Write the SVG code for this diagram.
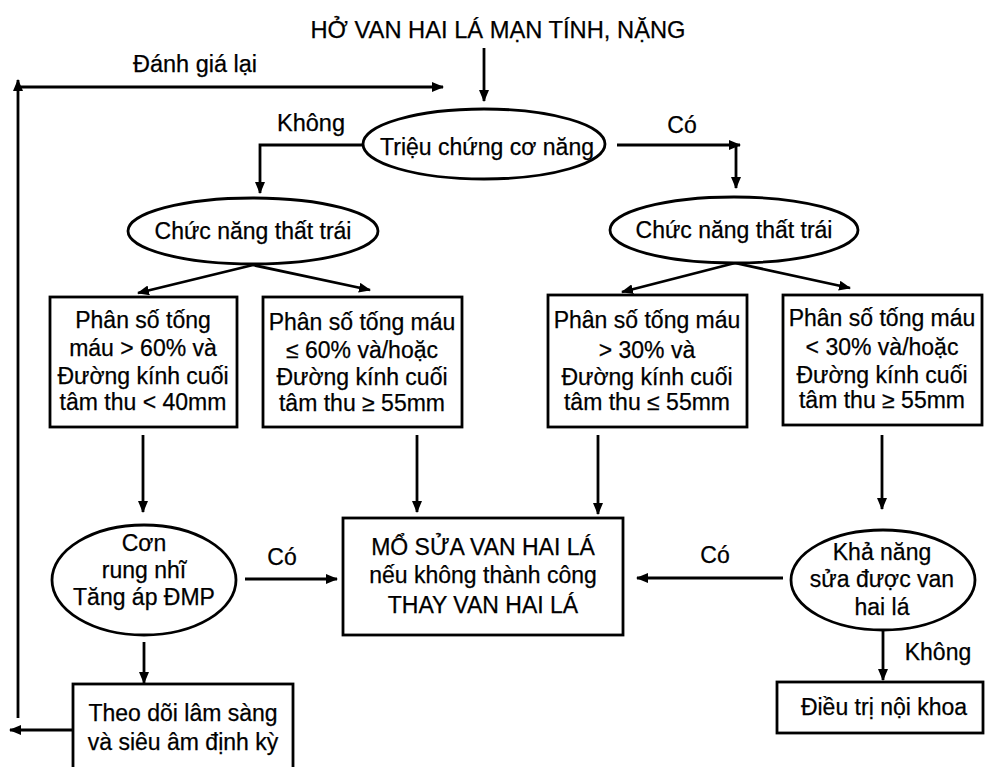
<svg xmlns="http://www.w3.org/2000/svg" width="985" height="767" viewBox="0 0 985 767">
<defs>
<marker id="ah" markerWidth="12" markerHeight="10" refX="11" refY="5" orient="auto" markerUnits="userSpaceOnUse">
<path d="M0,0 L12,5 L0,10 Z" fill="#000"/>
</marker>
<style>
text{font-family:"Liberation Sans",Arial,sans-serif;font-size:23px;fill:#000;text-anchor:middle;stroke:#000;stroke-width:0.25}
.title{font-size:24px}
.lbl{font-size:23px}
.node{fill:#fff;stroke:#000;stroke-width:2.8}
.conn{fill:none;stroke:#000;stroke-width:2.8}
</style>
</defs>
<rect width="985" height="767" fill="#fff"/>

<g id="connectors">
<path class="conn" d="M484,48 V101" marker-end="url(#ah)"/>
<path class="conn" d="M18,718 V80" marker-end="url(#ah)"/>
<path class="conn" d="M18,87 H443" marker-end="url(#ah)"/>
<path class="conn" d="M73,730 H10" marker-end="url(#ah)"/>
<path class="conn" d="M362,145 H260 V193" marker-end="url(#ah)"/>
<path class="conn" d="M617,145 H740" marker-end="url(#ah)"/>
<path class="conn" d="M736,145 V188" marker-end="url(#ah)"/>
<path class="conn" d="M253,265 L138,293" marker-end="url(#ah)"/>
<path class="conn" d="M253,265 L370,290" marker-end="url(#ah)"/>
<path class="conn" d="M735,263 L622,292" marker-end="url(#ah)"/>
<path class="conn" d="M735,263 L850,288" marker-end="url(#ah)"/>
<path class="conn" d="M143,435 V512" marker-end="url(#ah)"/>
<path class="conn" d="M417,435 V512" marker-end="url(#ah)"/>
<path class="conn" d="M598,435 V514" marker-end="url(#ah)"/>
<path class="conn" d="M882,435 V509" marker-end="url(#ah)"/>
<path class="conn" d="M245,579 H337" marker-end="url(#ah)"/>
<path class="conn" d="M783,578 H637" marker-end="url(#ah)"/>
<path class="conn" d="M144,642 V683" marker-end="url(#ah)"/>
<path class="conn" d="M883,630 V680" marker-end="url(#ah)"/>
<text class="lbl" x="195" y="72" textLength="124" lengthAdjust="spacingAndGlyphs">Đánh giá lại</text>
<text class="lbl" x="311" y="131" textLength="68" lengthAdjust="spacingAndGlyphs">Không</text>
<text class="lbl" x="682" y="133">Có</text>
<text x="282" y="565">Có</text>
<text x="715" y="563">Có</text>
<text x="938" y="660">Không</text>
</g>

<g id="title">
<text class="title" x="498" y="38" textLength="375" lengthAdjust="spacingAndGlyphs">HỞ VAN HAI LÁ MẠN TÍNH, NẶNG</text>
</g>

<g id="trieu-chung">
<ellipse class="node" cx="484" cy="144" rx="121" ry="35"/>
<text x="487" y="155" textLength="214" lengthAdjust="spacingAndGlyphs">Triệu chứng cơ năng</text>
</g>

<g id="chuc-nang-trai">
<ellipse class="node" cx="253" cy="231" rx="125" ry="33"/>
<text x="253" y="239">Chức năng thất trái</text>
</g>

<g id="chuc-nang-phai">
<ellipse class="node" cx="734" cy="230" rx="124" ry="33"/>
<text x="734" y="238">Chức năng thất trái</text>
</g>

<g id="box1">
<rect class="node" x="50" y="297" width="187" height="130"/>
<text x="143" y="328">Phân số tống</text>
<text x="143" y="356">máu &gt; 60% và</text>
<text x="143" y="384">Đường kính cuối</text>
<text x="143" y="410">tâm thu &lt; 40mm</text>
</g>

<g id="box2">
<rect class="node" x="263" y="297" width="199" height="130"/>
<text x="362" y="330">Phân số tống máu</text>
<text x="362" y="358">≤ 60% và/hoặc</text>
<text x="362" y="385">Đường kính cuối</text>
<text x="362" y="411">tâm thu ≥ 55mm</text>
</g>

<g id="box3">
<rect class="node" x="548" y="295" width="199" height="132"/>
<text x="647" y="328">Phân số tống máu</text>
<text x="647" y="358">&gt; 30% và</text>
<text x="647" y="385">Đường kính cuối</text>
<text x="647" y="410">tâm thu ≤ 55mm</text>
</g>

<g id="box4">
<rect class="node" x="783" y="295" width="199" height="130"/>
<text x="882" y="326">Phân số tống máu</text>
<text x="882" y="355">&lt; 30% và/hoặc</text>
<text x="882" y="383">Đường kính cuối</text>
<text x="882" y="408">tâm thu ≥ 55mm</text>
</g>

<g id="con-rung-nhi">
<ellipse class="node" cx="144" cy="580" rx="92" ry="55"/>
<text x="144" y="551">Cơn</text>
<text x="144" y="578">rung nhĩ</text>
<text x="144" y="605">Tăng áp ĐMP</text>
</g>

<g id="mo-sua-van">
<rect class="node" x="343" y="518" width="280" height="117"/>
<text x="483" y="555">MỔ SỬA VAN HAI LÁ</text>
<text x="483" y="583">nếu không thành công</text>
<text x="483" y="613">THAY VAN HAI LÁ</text>
</g>

<g id="kha-nang">
<ellipse class="node" cx="883" cy="580" rx="92" ry="50"/>
<text x="882" y="560">Khả năng</text>
<text x="882" y="587">sửa được van</text>
<text x="882" y="615">hai lá</text>
</g>

<g id="theo-doi">
<rect class="node" x="73" y="684" width="220" height="95"/>
<text x="183" y="721">Theo dõi lâm sàng</text>
<text x="183" y="750">và siêu âm định kỳ</text>
</g>

<g id="dieu-tri">
<rect class="node" x="777" y="682" width="206" height="51"/>
<text x="884" y="715">Điều trị nội khoa</text>
</g>
</svg>
